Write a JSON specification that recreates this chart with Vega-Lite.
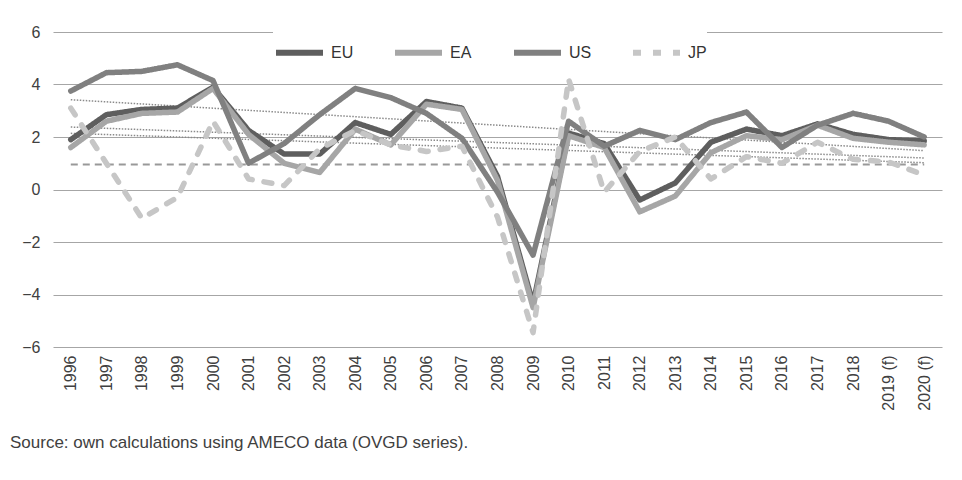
{
  "$schema": "https://vega.github.io/schema/vega-lite/v6.json",
  "width": 889,
  "height": 315,
  "autosize": {"type": "none"},
  "padding": {"left": 53, "top": 32, "right": 20, "bottom": 133},
  "background": "white",
  "title": {
    "text": "Source: own calculations using AMECO data (OVGD series).",
    "orient": "bottom",
    "anchor": "start",
    "frame": "group",
    "dx": -43,
    "offset": 25,
    "font": "Liberation Sans Narrow, Liberation Sans, sans-serif",
    "fontSize": 17,
    "fontWeight": "normal",
    "color": "#404040"
  },
  "config": {"view": {"stroke": null}, "font": "Liberation Sans"},
  "datasets": {
    "growth": [
      {"year": "1996", "series": "EU", "value": 1.9}, {"year": "1997", "series": "EU", "value": 2.85}, {"year": "1998", "series": "EU", "value": 3.05}, {"year": "1999", "series": "EU", "value": 3.1}, {"year": "2000", "series": "EU", "value": 3.9}, {"year": "2001", "series": "EU", "value": 2.25}, {"year": "2002", "series": "EU", "value": 1.35}, {"year": "2003", "series": "EU", "value": 1.35}, {"year": "2004", "series": "EU", "value": 2.55}, {"year": "2005", "series": "EU", "value": 2.1}, {"year": "2006", "series": "EU", "value": 3.35}, {"year": "2007", "series": "EU", "value": 3.1}, {"year": "2008", "series": "EU", "value": 0.5}, {"year": "2009", "series": "EU", "value": -4.35}, {"year": "2010", "series": "EU", "value": 2.15}, {"year": "2011", "series": "EU", "value": 1.75}, {"year": "2012", "series": "EU", "value": -0.4}, {"year": "2013", "series": "EU", "value": 0.25}, {"year": "2014", "series": "EU", "value": 1.8}, {"year": "2015", "series": "EU", "value": 2.3}, {"year": "2016", "series": "EU", "value": 2.05}, {"year": "2017", "series": "EU", "value": 2.5}, {"year": "2018", "series": "EU", "value": 2.1}, {"year": "2019 (f)", "series": "EU", "value": 1.9}, {"year": "2020 (f)", "series": "EU", "value": 1.85},
      {"year": "1996", "series": "EA", "value": 1.6}, {"year": "1997", "series": "EA", "value": 2.6}, {"year": "1998", "series": "EA", "value": 2.9}, {"year": "1999", "series": "EA", "value": 2.95}, {"year": "2000", "series": "EA", "value": 3.85}, {"year": "2001", "series": "EA", "value": 2.1}, {"year": "2002", "series": "EA", "value": 1.0}, {"year": "2003", "series": "EA", "value": 0.65}, {"year": "2004", "series": "EA", "value": 2.3}, {"year": "2005", "series": "EA", "value": 1.7}, {"year": "2006", "series": "EA", "value": 3.25}, {"year": "2007", "series": "EA", "value": 3.05}, {"year": "2008", "series": "EA", "value": 0.35}, {"year": "2009", "series": "EA", "value": -4.5}, {"year": "2010", "series": "EA", "value": 2.05}, {"year": "2011", "series": "EA", "value": 1.6}, {"year": "2012", "series": "EA", "value": -0.85}, {"year": "2013", "series": "EA", "value": -0.25}, {"year": "2014", "series": "EA", "value": 1.4}, {"year": "2015", "series": "EA", "value": 2.05}, {"year": "2016", "series": "EA", "value": 1.9}, {"year": "2017", "series": "EA", "value": 2.45}, {"year": "2018", "series": "EA", "value": 1.95}, {"year": "2019 (f)", "series": "EA", "value": 1.8}, {"year": "2020 (f)", "series": "EA", "value": 1.7},
      {"year": "1996", "series": "US", "value": 3.75}, {"year": "1997", "series": "US", "value": 4.45}, {"year": "1998", "series": "US", "value": 4.5}, {"year": "1999", "series": "US", "value": 4.75}, {"year": "2000", "series": "US", "value": 4.15}, {"year": "2001", "series": "US", "value": 1.0}, {"year": "2002", "series": "US", "value": 1.75}, {"year": "2003", "series": "US", "value": 2.85}, {"year": "2004", "series": "US", "value": 3.85}, {"year": "2005", "series": "US", "value": 3.5}, {"year": "2006", "series": "US", "value": 2.9}, {"year": "2007", "series": "US", "value": 1.95}, {"year": "2008", "series": "US", "value": -0.1}, {"year": "2009", "series": "US", "value": -2.5}, {"year": "2010", "series": "US", "value": 2.6}, {"year": "2011", "series": "US", "value": 1.65}, {"year": "2012", "series": "US", "value": 2.25}, {"year": "2013", "series": "US", "value": 1.9}, {"year": "2014", "series": "US", "value": 2.55}, {"year": "2015", "series": "US", "value": 2.95}, {"year": "2016", "series": "US", "value": 1.6}, {"year": "2017", "series": "US", "value": 2.45}, {"year": "2018", "series": "US", "value": 2.9}, {"year": "2019 (f)", "series": "US", "value": 2.6}, {"year": "2020 (f)", "series": "US", "value": 2.0},
      {"year": "1996", "series": "JP", "value": 3.1}, {"year": "1997", "series": "JP", "value": 1.0}, {"year": "1998", "series": "JP", "value": -1.1}, {"year": "1999", "series": "JP", "value": -0.3}, {"year": "2000", "series": "JP", "value": 2.6}, {"year": "2001", "series": "JP", "value": 0.4}, {"year": "2002", "series": "JP", "value": 0.15}, {"year": "2003", "series": "JP", "value": 1.55}, {"year": "2004", "series": "JP", "value": 2.25}, {"year": "2005", "series": "JP", "value": 1.7}, {"year": "2006", "series": "JP", "value": 1.45}, {"year": "2007", "series": "JP", "value": 1.65}, {"year": "2008", "series": "JP", "value": -1.05}, {"year": "2009", "series": "JP", "value": -5.45}, {"year": "2010", "series": "JP", "value": 4.2}, {"year": "2011", "series": "JP", "value": -0.1}, {"year": "2012", "series": "JP", "value": 1.45}, {"year": "2013", "series": "JP", "value": 2.0}, {"year": "2014", "series": "JP", "value": 0.4}, {"year": "2015", "series": "JP", "value": 1.25}, {"year": "2016", "series": "JP", "value": 1.0}, {"year": "2017", "series": "JP", "value": 1.8}, {"year": "2018", "series": "JP", "value": 1.15}, {"year": "2019 (f)", "series": "JP", "value": 1.05}, {"year": "2020 (f)", "series": "JP", "value": 0.55}
    ],
    "trend": [
      {"year": "1996", "series": "US", "value": 3.42}, {"year": "2020 (f)", "series": "US", "value": 1.48},
      {"year": "1996", "series": "EU", "value": 2.38}, {"year": "2020 (f)", "series": "EU", "value": 1.2},
      {"year": "1996", "series": "EA", "value": 2.14}, {"year": "2020 (f)", "series": "EA", "value": 1.02},
      {"year": "1996", "series": "JP", "value": 0.95}, {"year": "2020 (f)", "series": "JP", "value": 0.95}
    ]
  },
  "encoding": {
    "x": {
      "field": "year",
      "type": "ordinal",
      "scale": {"type": "point", "padding": 0.5},
      "axis": {"title": null, "labelAngle": -90, "labelFontSize": 16, "labelColor": "#404040", "ticks": false, "domain": false, "labelPadding": 8, "grid": false}
    },
    "y": {
      "field": "value",
      "type": "quantitative",
      "scale": {"domain": [-6, 6], "nice": false, "zero": false},
      "axis": {"title": null, "values": [-6, -4, -2, 0, 2, 4, 6], "labelFontSize": 16, "labelColor": "#404040", "ticks": false, "domain": false, "labelPadding": 13, "gridColor": "#a6a6a6", "gridWidth": 1.2}
    }
  },
  "layer": [
    {
      "data": {"name": "trend"},
      "transform": [{"filter": "datum.series != 'JP'"}],
      "mark": {"type": "line", "strokeWidth": 1.5, "strokeDash": [1.5, 1.5], "color": "#8a8a8a"},
      "encoding": {"detail": {"field": "series", "type": "nominal"}}
    },
    {
      "data": {"name": "trend"},
      "transform": [{"filter": "datum.series == 'JP'"}],
      "mark": {"type": "line", "strokeWidth": 2, "strokeDash": [7, 5], "color": "#999999"},
      "encoding": {}
    },
    {
      "data": {"name": "growth"},
      "mark": {"type": "line", "strokeWidth": 5.5, "strokeCap": "round", "strokeJoin": "round"},
      "encoding": {
        "color": {
          "field": "series",
          "type": "nominal",
          "scale": {"domain": ["EU", "EA", "US", "JP"], "range": ["#5e5e5e", "#a6a6a6", "#808080", "#c6c6c6"]},
          "legend": {"orient": "none", "legendX": 220, "legendY": -6, "direction": "horizontal", "columns": 4, "title": null, "symbolType": "stroke", "symbolSize": 2209, "symbolStrokeWidth": 6, "labelFontSize": 16, "labelColor": "#333333", "labelOffset": 5, "fillColor": "white", "padding": 0, "columnPadding": 29, "gridAlign": "all"}
        },
        "strokeDash": {
          "field": "series",
          "type": "nominal",
          "scale": {"domain": ["EU", "EA", "US", "JP"], "range": [[1, 0], [1, 0], [1, 0], [8, 12]]},
          "legend": {"orient": "none", "legendX": 220, "legendY": -6, "direction": "horizontal", "columns": 4, "title": null, "symbolType": "stroke", "symbolSize": 2209, "symbolStrokeWidth": 6, "labelFontSize": 16, "labelColor": "#333333", "labelOffset": 5, "fillColor": "white", "padding": 0, "columnPadding": 29, "gridAlign": "all"}
        }
      }
    }
  ]
}
